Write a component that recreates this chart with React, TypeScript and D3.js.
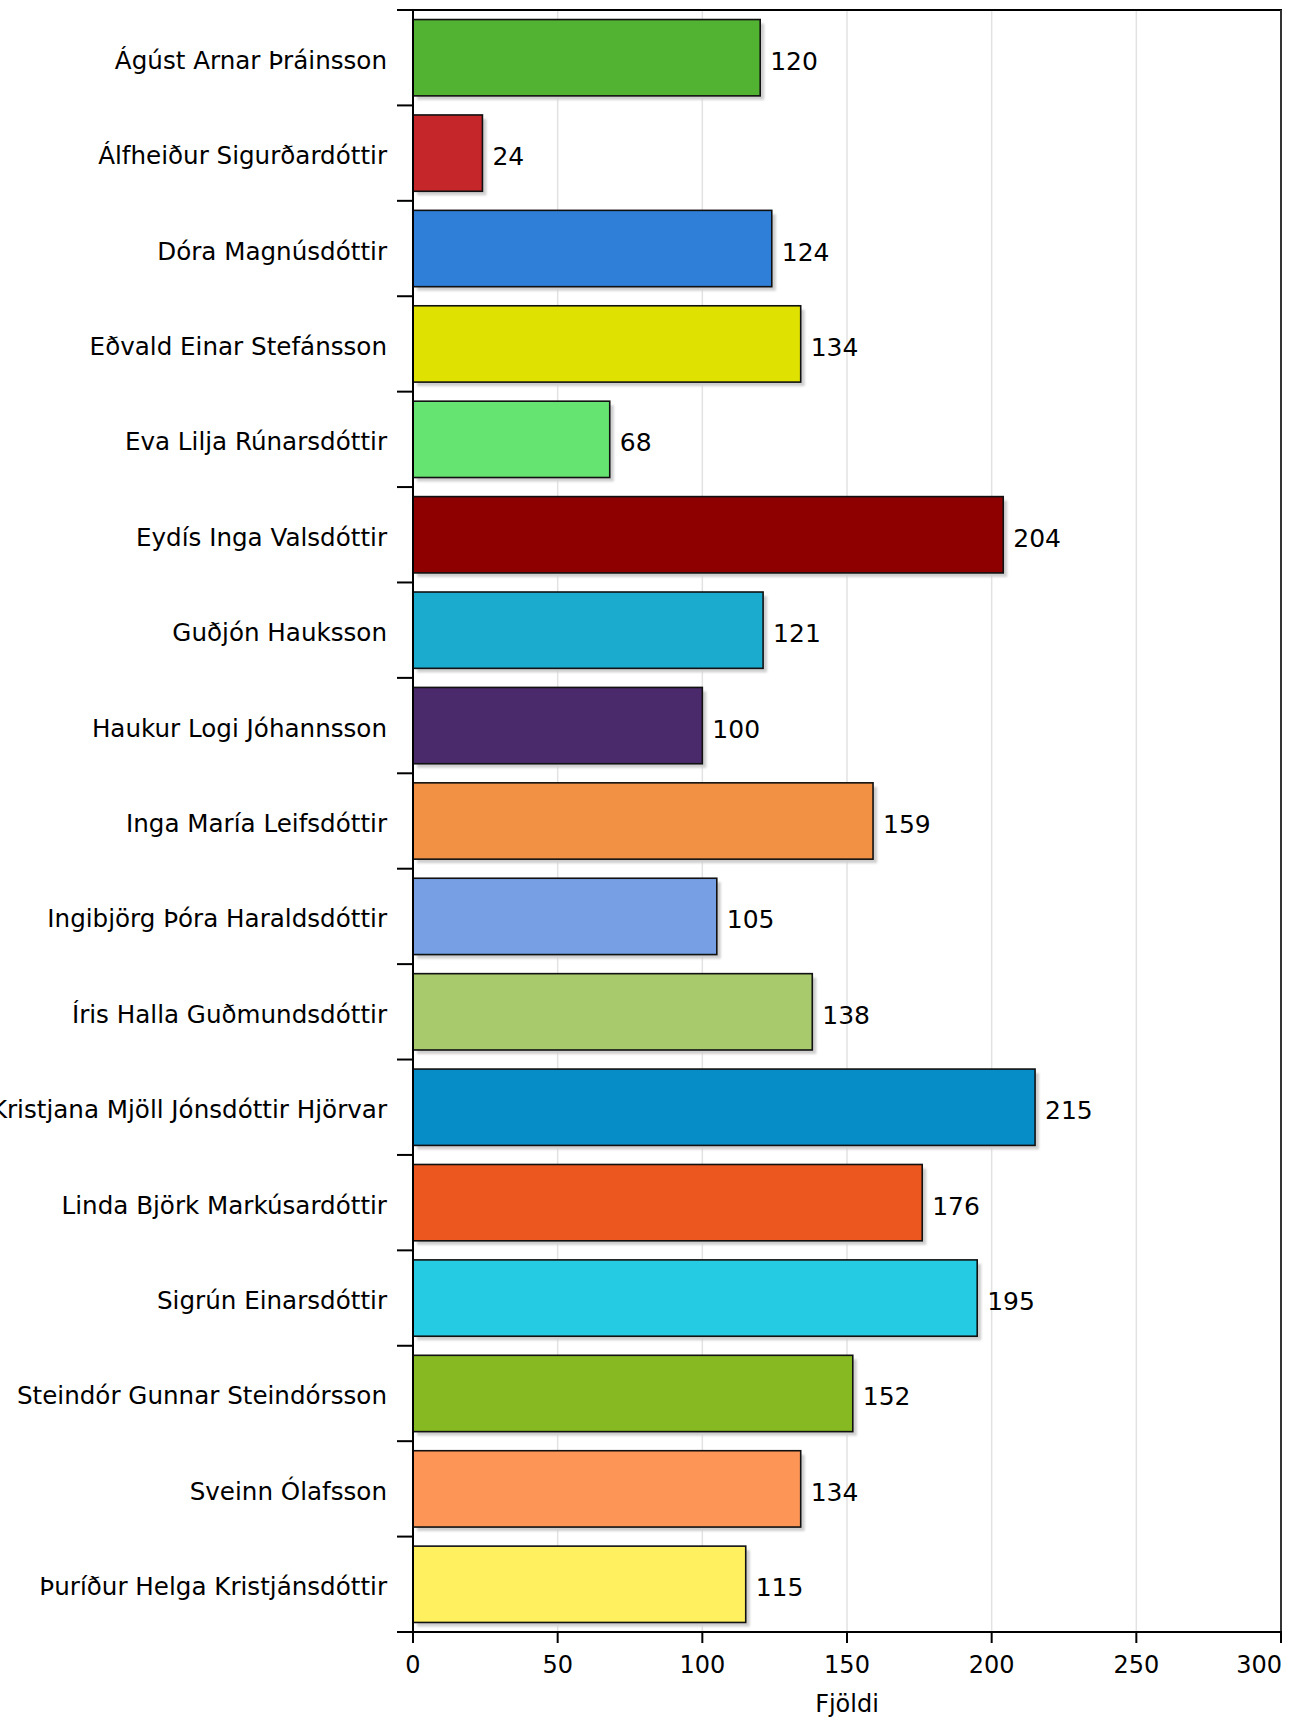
import React from "react";
import * as d3 from "d3";

const names = [
  "Ágúst Arnar Þráinsson",
  "Álfheiður Sigurðardóttir",
  "Dóra Magnúsdóttir",
  "Eðvald Einar Stefánsson",
  "Eva Lilja Rúnarsdóttir",
  "Eydís Inga Valsdóttir",
  "Guðjón Hauksson",
  "Haukur Logi Jóhannsson",
  "Inga María Leifsdóttir",
  "Ingibjörg Þóra Haraldsdóttir",
  "Íris Halla Guðmundsdóttir",
  "Kristjana Mjöll Jónsdóttir Hjörvar",
  "Linda Björk Markúsardóttir",
  "Sigrún Einarsdóttir",
  "Steindór Gunnar Steindórsson",
  "Sveinn Ólafsson",
  "Þuríður Helga Kristjánsdóttir",
];

const votes = [120, 24, 124, 134, 68, 204, 121, 100, 159, 105, 138, 215, 176, 195, 152, 134, 115];

const barColors = [
  "#52b232", "#c4262a", "#2f7fd9", "#dfe200", "#66e472", "#8e0000",
  "#1babcf", "#4a2a6b", "#f29143", "#76a0e3", "#a8c96c", "#068dc8",
  "#eb571f", "#25cae3", "#87b922", "#fd9556", "#fff060",
];

const xTicks = [0, 50, 100, 150, 200, 250, 300];
const xTitle = "Fjöldi";

const W = 1296;
const H = 1720;
const left = 413;
const right = 1281;
const top = 10;
const bottom = 1632;
const font = "'DejaVu Sans', sans-serif";

export default function App() {
  const x = d3.scaleLinear().domain([0, 300]).range([left, right]);
  const y = d3
    .scaleBand<string>()
    .domain(names)
    .range([top, bottom])
    .paddingInner(0.2)
    .paddingOuter(0.1);
  const step = y.step();
  const bw = y.bandwidth();

  // boundaries between categories (tick marks on the left axis)
  const bounds = d3.range(names.length + 1).map((i) => top + i * step);

  return (
    <div style={{ position: "absolute", left: 0, top: 0 }}>
      <svg width={W} height={H} style={{ display: "block", background: "#fff" }}>
        <defs>
          <filter id="sh" x="-5%" y="-10%" width="115%" height="130%">
            <feGaussianBlur stdDeviation="1.2" />
          </filter>
        </defs>

        {/* grid */}
        {xTicks.slice(1, -1).map((t) => (
          <line key={t} x1={x(t)} x2={x(t)} y1={top} y2={bottom} stroke="#e2e2e2" strokeWidth={1.5} />
        ))}

        {/* bars */}
        {names.map((n, i) => {
          const y0 = y(n)!;
          return (
            <g key={n}>
              <rect
                x={x(0) + 4}
                y={y0 + 4}
                width={x(votes[i]) - x(0)}
                height={bw}
                fill="#cfcfcf"
                filter="url(#sh)"
              />
              <rect
                x={x(0)}
                y={y0}
                width={x(votes[i]) - x(0)}
                height={bw}
                fill={barColors[i]}
                stroke="#111"
                strokeWidth={1.6}
              />
              <text
                x={x(votes[i]) + 10}
                y={y0 + bw / 2 + 12}
                fontFamily={font}
                fontSize={25}
                fill="#000"
              >
                {votes[i]}
              </text>
              <text
                x={387}
                y={y0 + bw / 2 + 11}
                textAnchor="end"
                fontFamily={font}
                fontSize={24.6}
                fill="#000"
              >
                {n}
              </text>
            </g>
          );
        })}

        {/* frame */}
        <line x1={397} x2={right + 1} y1={top} y2={top} stroke="#000" strokeWidth={2} />
        <line x1={right} x2={right} y1={top} y2={bottom} stroke="#333" strokeWidth={2} />
        <line x1={left} x2={left} y1={top} y2={bottom} stroke="#000" strokeWidth={2} />
        <line x1={397} x2={right + 1} y1={bottom} y2={bottom} stroke="#000" strokeWidth={2} />

        {bounds.map((b, i) => (
          <line key={i} x1={397} x2={left} y1={b} y2={b} stroke="#000" strokeWidth={2} />
        ))}

        {/* x axis */}
        {xTicks.map((t, i) => (
          <g key={t}>
            <line x1={x(t)} x2={x(t)} y1={bottom} y2={bottom + 11} stroke="#000" strokeWidth={2} />
            <text
              x={i === xTicks.length - 1 ? x(t) + 1 : x(t)}
              y={1673}
              textAnchor={i === xTicks.length - 1 ? "end" : "middle"}
              fontFamily={font}
              fontSize={24}
              fill="#000"
            >
              {t}
            </text>
          </g>
        ))}
        <text
          x={(left + right) / 2}
          y={1712}
          textAnchor="middle"
          fontFamily={font}
          fontSize={24}
          fill="#000"
        >
          {xTitle}
        </text>
      </svg>
    </div>
  );
}
